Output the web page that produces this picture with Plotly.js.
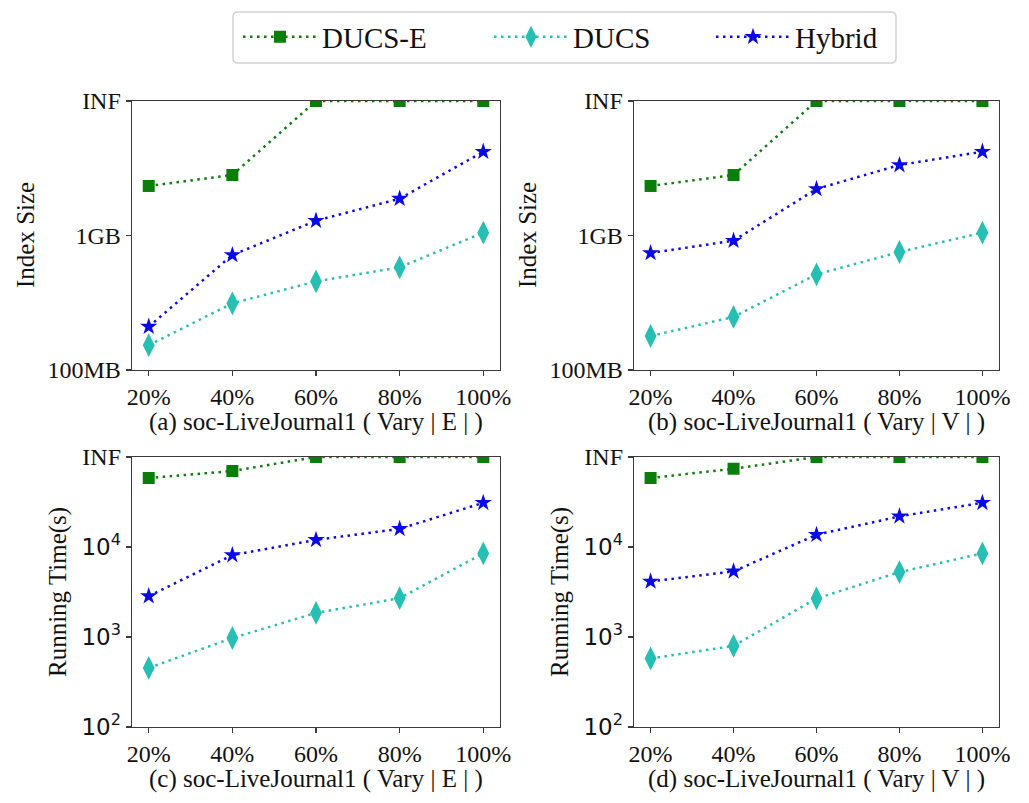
<!DOCTYPE html>
<html>
<head>
<meta charset="utf-8">
<script src="https://cdn.plot.ly/plotly-3.0.1.min.js"></script>
<style>
  html, body { margin: 0; padding: 0; background: #fff; }
  #chart { width: 1029px; height: 803px; }
</style>
</head>
<body>
<div id="chart"></div>
<script>
// ── data ──
const pct = [20, 40, 60, 80, 100];
const pctLabels = ['20%', '40%', '60%', '80%', '100%'];

// "INF" is drawn at the top of each axis
const INF_MB = 10000;
const INF_S  = 100000;

// index size, MB — (a) vary |E|
const sizeE_ducsE  = [2335, 2818, INF_MB, INF_MB, INF_MB];
const sizeE_ducs   = [153, 313, 456, 580, 1050];
const sizeE_hybrid = [210, 716, 1288, 1879, 4198];
// index size, MB — (b) vary |V|
const sizeV_ducsE  = [2335, 2818, INF_MB, INF_MB, INF_MB];
const sizeV_ducs   = [179, 248, 514, 754, 1050];
const sizeV_hybrid = [741, 915, 2218, 3342, 4198];
// running time, s — (c) vary |E|
const timeE_ducsE  = [58400, 69900, INF_S, INF_S, INF_S];
const timeE_ducs   = [453, 975, 1850, 2700, 8490];
const timeE_hybrid = [2844, 8130, 12000, 15900, 31000];
// running time, s — (d) vary |V|
const timeV_ducsE  = [58400, 74100, INF_S, INF_S, INF_S];
const timeV_ducs   = [577, 796, 2680, 5260, 8490];
const timeV_hybrid = [4140, 5360, 13680, 21900, 31000];

const sizeTickVals = [100, 1000, 10000];
const sizeTickText = ['100MB', '1GB', 'INF'];
const timeTickVals = [100, 1000, 10000, 100000];
const timeTickText = ['10<sup>2</sup>', '10<sup>3</sup>', '10<sup>4</sup>',
  '<span style="font-family:\'Liberation Serif\';font-size:24px">INF</span>'];

const captions = [
  '(a) soc-LiveJournal1 ( Vary | E | )',
  '(b) soc-LiveJournal1 ( Vary | V | )',
  '(c) soc-LiveJournal1 ( Vary | E | )',
  '(d) soc-LiveJournal1 ( Vary | V | )',
];

// ── styling ──
const SERIF = "'Liberation Serif', serif";
const SERIES = [
  { name: 'DUCS-E', color: '#0b7d0b', symbol: 'square',       size: 12, legend: 'legend',  lx: 238 },
  { name: 'DUCS',   color: '#26bfb4', symbol: 'diamond-tall', size: 17, legend: 'legend2', lx: 489 },
  { name: 'Hybrid', color: '#0a0ae6', symbol: 'star',         size: 13, legend: 'legend3', lx: 711 },
];

const W = 1029, H = 803;
const px = v => v / W;
const py = v => 1 - v / H;

const panels = [
  { ax: '',  xd: [132, 500], yd: [101, 370], data: [sizeE_ducsE, sizeE_ducs, sizeE_hybrid], kind: 'size' },
  { ax: '2', xd: [634, 999], yd: [101, 370], data: [sizeV_ducsE, sizeV_ducs, sizeV_hybrid], kind: 'size' },
  { ax: '3', xd: [132, 500], yd: [457, 727], data: [timeE_ducsE, timeE_ducs, timeE_hybrid], kind: 'time' },
  { ax: '4', xd: [634, 999], yd: [457, 727], data: [timeV_ducsE, timeV_ducs, timeV_hybrid], kind: 'time' },
];

// rounded legend frame, drawn as a paper-space path
function roundedBox(x0, y0, x1, y1, r) {
  const X0 = px(x0), X1 = px(x1), T = py(y0), B = py(y1);
  const rx = r / W, ry = r / H;
  return `M${X0 + rx},${T} L${X1 - rx},${T} Q${X1},${T} ${X1},${T - ry} ` +
         `L${X1},${B + ry} Q${X1},${B} ${X1 - rx},${B} L${X0 + rx},${B} ` +
         `Q${X0},${B} ${X0},${B + ry} L${X0},${T - ry} Q${X0},${T} ${X0 + rx},${T} Z`;
}

const traces = [];
const layout = {
  width: W, height: H,
  margin: { l: 0, r: 0, t: 0, b: 0 },
  paper_bgcolor: '#fff', plot_bgcolor: '#fff',
  font: { family: SERIF, color: '#111', size: 22 },
  showlegend: true,
  annotations: [],
  shapes: [{
    type: 'path', xref: 'paper', yref: 'paper',
    path: roundedBox(233, 12, 896, 63, 5),
    line: { color: '#d2d2d2', width: 1.5 }, fillcolor: 'rgba(0,0,0,0)',
  }],
};

// one legend per series so the columns can sit where the reference has them
SERIES.forEach(s => {
  layout[s.legend] = {
    orientation: 'h', x: px(s.lx), xanchor: 'left', y: py(37), yanchor: 'middle',
    bgcolor: 'rgba(0,0,0,0)', borderwidth: 0,
    font: { family: SERIF, size: 29, color: '#111' },
    itemwidth: 74,
  };
});

function axisBase(extra) {
  return Object.assign({
    showline: true, mirror: true, linecolor: '#3a3a3a', linewidth: 1.4,
    ticks: 'outside', ticklen: 5, tickwidth: 1.2, tickcolor: '#3a3a3a',
    showgrid: false, zeroline: false, fixedrange: true,
  }, extra);
}

panels.forEach((p, i) => {
  const xa = 'x' + p.ax, ya = 'y' + p.ax;
  p.data.forEach((vals, k) => {
    const s = SERIES[k];
    traces.push({
      type: 'scatter', mode: 'lines+markers',
      x: pct, y: vals, xaxis: xa, yaxis: ya,
      name: s.name, legend: s.legend, legendgroup: s.name, showlegend: i === 0,
      line: { color: s.color, width: 2.5, dash: '2.5px,4.5px' },
      marker: { color: s.color, symbol: s.symbol, size: s.size, line: { width: 0 } },
      cliponaxis: true,
    });
  });

  const isSize = p.kind === 'size';
  layout['xaxis' + p.ax] = axisBase({
    domain: [px(p.xd[0]), px(p.xd[1])], anchor: ya,
    range: [16, 104], tickvals: pct, ticktext: pctLabels,
    tickfont: { family: SERIF, size: 24 },
  });
  layout['yaxis' + p.ax] = axisBase({
    domain: [py(p.yd[1]), py(p.yd[0])], anchor: xa,
    type: 'log', range: isSize ? [2, 4] : [2, 5],
    tickvals: isSize ? sizeTickVals : timeTickVals,
    ticktext: isSize ? sizeTickText : timeTickText,
    tickfont: isSize ? { family: SERIF, size: 24 } : { family: "'DejaVu Sans', sans-serif", size: 23 },
  });

  // caption under each panel
  layout.annotations.push({
    xref: 'paper', yref: 'paper', showarrow: false,
    x: px((p.xd[0] + p.xd[1]) / 2), y: py(p.yd[1] + 52),
    xanchor: 'center', yanchor: 'middle',
    text: captions[i], font: { family: SERIF, size: 25, color: '#111' },
  });
  // y axis title
  const left = p.xd[0] === 132;
  layout.annotations.push({
    xref: 'paper', yref: 'paper', showarrow: false, textangle: -90,
    x: px(isSize ? (left ? 25 : 527) : (left ? 58 : 560)),
    y: py(isSize ? 235 : 592), xanchor: 'center', yanchor: 'middle',
    text: isSize ? 'Index Size' : 'Running Time(s)',
    font: { family: SERIF, size: 25, color: '#111' },
  });
});

Plotly.newPlot('chart', traces, layout, { displayModeBar: false, staticPlot: true });
</script>
</body>
</html>
